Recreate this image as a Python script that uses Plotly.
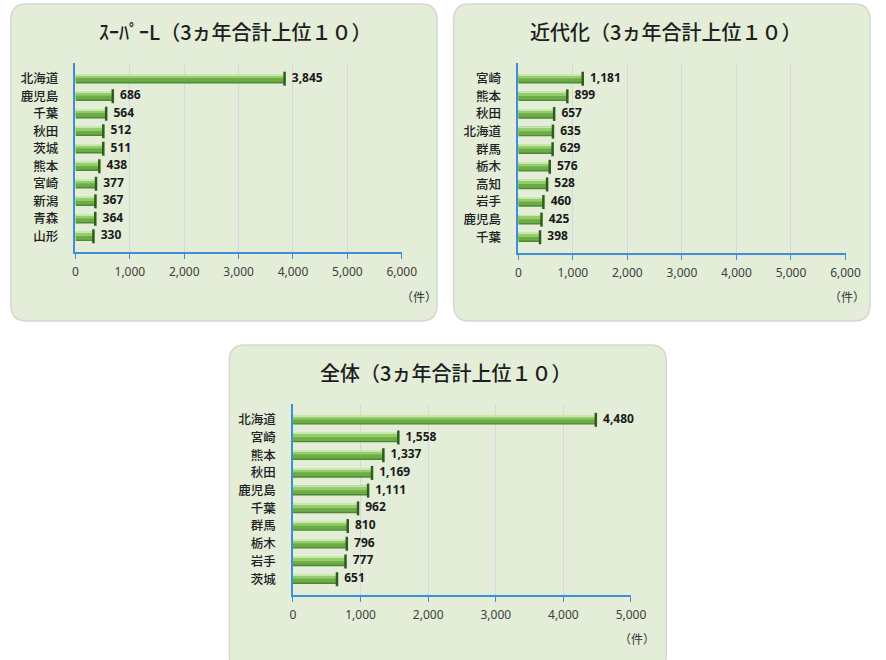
import plotly.graph_objects as go

W, H = 886, 660

# ---- data ----
super_cats = ["北海道", "鹿児島", "千葉", "秋田", "茨城", "熊本", "宮崎", "新潟", "青森", "山形"]
super_vals = [3845, 686, 564, 512, 511, 438, 377, 367, 364, 330]

kindai_cats = ["宮崎", "熊本", "秋田", "北海道", "群馬", "栃木", "高知", "岩手", "鹿児島", "千葉"]
kindai_vals = [1181, 899, 657, 635, 629, 576, 528, 460, 425, 398]

total_cats = ["北海道", "宮崎", "熊本", "秋田", "鹿児島", "千葉", "群馬", "栃木", "岩手", "茨城"]
total_vals = [4480, 1558, 1337, 1169, 1111, 962, 810, 796, 777, 651]

titles = ["ｽｰﾊﾟｰL（3ヵ年合計上位１０）", "近代化（3ヵ年合計上位１０）", "全体（3ヵ年合計上位１０）"]
unit_label = "（件）"
x_max = [6000, 6000, 5000]


def px(x):
    return x / W


def py(y):
    return 1 - y / H


def rounded_box(x0, y0, x1, y1, r):
    def P(x, y):
        return f"{px(x):.5f},{py(y):.5f}"
    return (f"M {P(x0 + r, y0)} L {P(x1 - r, y0)} Q {P(x1, y0)} {P(x1, y0 + r)} "
            f"L {P(x1, y1 - r)} Q {P(x1, y1)} {P(x1 - r, y1)} "
            f"L {P(x0 + r, y1)} Q {P(x0, y1)} {P(x0, y1 - r)} "
            f"L {P(x0, y0 + r)} Q {P(x0, y0)} {P(x0 + r, y0)} Z")


fig = go.Figure()

panels = [
    dict(cats=super_cats, vals=super_vals, box=(8, 4, 443, 321), xd=(74, 407), yd=(63, 252),
         title_xy=(237, 32), unit_xy=(425, 297)),
    dict(cats=kindai_cats, vals=kindai_vals, box=(460, 4, 885, 321), xd=(526, 860), yd=(63, 253),
         title_xy=(676, 32), unit_xy=(862, 297)),
    dict(cats=total_cats, vals=total_vals, box=(231, 345, 677, 672), xd=(296, 641), yd=(404, 595),
         title_xy=(452, 372), unit_xy=(647, 638)),
]

BLUE = "#3d8fd8"
GRID = "#d4d8de"
JP = "Noto Sans CJK JP"
NUM = "Noto Sans, Noto Sans CJK JP"

shapes = []
annotations = []

# bar layers: (color, offset, width)
layers = [
    ("#4d8a31", -0.27, 0.54),
    ("#6cab45", -0.03, 0.22),
    ("#94cd6c", -0.22, 0.2),
    ("#c8e8ac", -0.26, 0.05),
]

for i, p in enumerate(panels):
    n = "" if i == 0 else str(i + 1)
    xa, ya = "x" + n, "y" + n
    for color, off, wd in layers:
        fig.add_trace(go.Bar(
            x=p["vals"], y=p["cats"], orientation="h", xaxis=xa, yaxis=ya,
            marker=dict(color=color, line=dict(width=0)),
            offset=off, width=wd, hoverinfo="skip", showlegend=False,
        ))
    # end caps + value labels
    fig.add_trace(go.Scatter(
        x=p["vals"], y=p["cats"], xaxis=xa, yaxis=ya, mode="markers+text",
        marker=dict(symbol="line-ns", size=10, line=dict(width=2.5, color="#2f5c1b")),
        text=[f"{v:,}" for v in p["vals"]], textposition="middle right",
        textfont=dict(family=NUM, size=12, color="#1a1a1a", weight="bold"),
        cliponaxis=False, hoverinfo="skip", showlegend=False,
    ))

    x0, y0, x1, y1 = p["box"]
    shapes.append(dict(type="path", xref="paper", yref="paper",
                       path=rounded_box(x0, y0, x1, y1, 16),
                       fillcolor="#e3edd8", line=dict(color="#d5d8d2", width=1.5),
                       layer="below"))

    fig.layout["xaxis" + n] = dict(
        domain=[px(p["xd"][0]), px(p["xd"][1])], anchor=ya,
        range=[0, x_max[i]], dtick=1000, tickformat=",",
        showgrid=True, gridcolor=GRID, gridwidth=1, zeroline=False,
        showline=True, linecolor=BLUE, linewidth=1.5,
        ticks="outside", ticklen=5, tickcolor=BLUE, tickwidth=1.2,
        tickfont=dict(family=NUM, size=12, color="#404040"),
        ticklabelstandoff=3, fixedrange=True,
    )
    fig.layout["yaxis" + n] = dict(
        domain=[py(p["yd"][1]), py(p["yd"][0])], anchor=xa,
        type="category", autorange="reversed",
        showgrid=False, zeroline=False,
        showline=True, linecolor=BLUE, linewidth=1.5, ticks="",
        tickfont=dict(family=JP, size=12.5, color="#222222", weight=500),
        ticklabelstandoff=13, fixedrange=True,
    )

    annotations.append(dict(
        x=px(p["title_xy"][0]), y=py(p["title_xy"][1]), xref="paper", yref="paper",
        text=titles[i], showarrow=False, xanchor="center", yanchor="middle",
        font=dict(family=JP, size=20, color="#1e1e1e", weight=500),
    ))
    annotations.append(dict(
        x=px(p["unit_xy"][0]), y=py(p["unit_xy"][1]), xref="paper", yref="paper",
        text=unit_label, showarrow=False, xanchor="center", yanchor="middle",
        font=dict(family=JP, size=12, color="#333333"),
    ))

fig.update_layout(
    width=W, height=H, autosize=False, margin=dict(l=0, r=0, t=0, b=0),
    paper_bgcolor="white", plot_bgcolor="rgba(0,0,0,0)",
    barmode="overlay", shapes=shapes, annotations=annotations,
    showlegend=False,
)

fig.write_html(
    "out.html",
    config={"displayModeBar": False, "responsive": False},
    post_script=(
        "document.body.style.margin='0';"
        "document.body.style.overflow='hidden';"
        "var gd=document.getElementById('{plot_id}');"
        "Plotly.relayout(gd,{width:%d,height:%d});" % (W, H)
    ),
)
